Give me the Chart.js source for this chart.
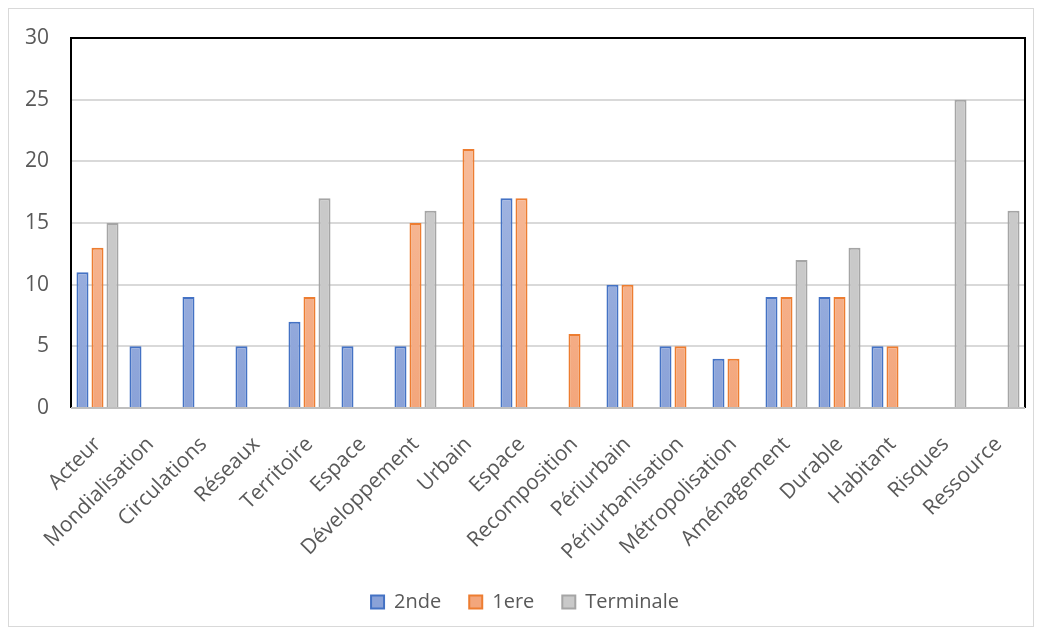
<!DOCTYPE html>
<html>
<head>
<meta charset="utf-8">
<script src="https://cdn.jsdelivr.net/npm/chart.js@4"></script>
<style>
    body { margin: 0; background: #fff; }
    #wrap { position: absolute; left: 8px; top: 8px; width: 1024px; height: 617px; border: 1px solid #d9d9d9; }
</style>
</head>
<body>
<div id="wrap"><canvas id="motsChart"></canvas></div>
<script>
var categories = ['Acteur', 'Mondialisation', 'Circulations', 'Réseaux', 'Territoire', 'Espace',
    'Développement', 'Urbain', 'Espace', 'Recomposition', 'Périurbain', 'Périurbanisation',
    'Métropolisation', 'Aménagement', 'Durable', 'Habitant', 'Risques', 'Ressource'];
var seconde = [11, 5, 9, 5, 7, 5, 5, 0, 17, 0, 10, 5, 4, 9, 9, 5, 0, 0];
var premiere = [13, 0, 0, 0, 9, 0, 15, 21, 17, 6, 10, 5, 4, 9, 9, 5, 0, 0];
var terminale = [15, 0, 0, 0, 17, 0, 16, 0, 0, 0, 0, 0, 0, 12, 13, 0, 25, 16];
var yTicks = [0, 5, 10, 15, 20, 25, 30];

// vertical gradient for bars
function grad(top, bottom) {
    return function (c) {
        var area = c.chart.chartArea;
        if (!area) return bottom;
        var g = c.chart.ctx.createLinearGradient(0, area.top, 0, area.bottom);
        g.addColorStop(0, top);
        g.addColorStop(1, bottom);
        return g;
    };
}

// border round the plot area
var plotBorder = {
    id: 'plotBorder',
    afterDraw: function (chart) {
        var a = chart.chartArea, ctx = chart.ctx;
        ctx.save();
        ctx.lineWidth = 2;
        ctx.strokeStyle = '#000';
        ctx.beginPath();
        ctx.moveTo(a.left, a.bottom);
        ctx.lineTo(a.left, a.top);
        ctx.lineTo(a.right, a.top);
        ctx.lineTo(a.right, a.bottom);
        ctx.stroke();
        ctx.strokeStyle = '#bfbfbf';
        ctx.beginPath();
        ctx.moveTo(a.left, a.bottom);
        ctx.lineTo(a.right, a.bottom);
        ctx.stroke();
        ctx.restore();
    }
};

var ctx = document.getElementById('motsChart').getContext('2d');
var motsChart = new Chart(ctx, {
    type: 'bar',
    data: {
        labels: categories,
        datasets: [{
            label: '2nde',
            data: seconde,
            backgroundColor: grad('#aebfe6', '#8aa2d8'),
            borderColor: '#4472c4',
            borderWidth: 2
        }, {
            label: '1ere',
            data: premiere,
            backgroundColor: grad('#f9c4a6', '#f3a67c'),
            borderColor: '#ed7d31',
            borderWidth: 2
        }, {
            label: 'Terminale',
            data: terminale,
            backgroundColor: '#c9c9c9',
            borderColor: '#a5a5a5',
            borderWidth: 2
        }]
    },
    plugins: [plotBorder],
    options: {
        responsive: true,
        maintainAspectRatio: false,
        animation: false,
        layout: { padding: { left: 16, right: 8, top: 29, bottom: 4 } },
        datasets: { bar: { categoryPercentage: 0.85, barPercentage: 0.8 } },
        scales: {
            x: {
                grid: { display: false },
                border: { display: false },
                afterFit: function (axis) {
                    // let the rotated first label hang past the plot edge
                    axis.paddingLeft = 0;
                    axis.paddingRight = 0;
                    axis.height = 156;
                },
                ticks: {
                    color: '#595959',
                    font: { family: 'Open Sans', size: 21 },
                    maxRotation: 45,
                    minRotation: 45,
                    autoSkip: false,
                    padding: 16
                }
            },
            y: {
                min: 0,
                max: 30,
                afterBuildTicks: function (axis) {
                    axis.ticks = yTicks.map(function (v) { return { value: v }; });
                },
                afterFit: function (axis) {
                    axis.width = 46;
                    axis.paddingTop = 0;
                    axis.paddingBottom = 0;
                },
                grid: { color: '#d9d9d9', lineWidth: 2, drawTicks: false },
                border: { display: false },
                ticks: {
                    color: '#595959',
                    font: { family: 'Open Sans', size: 21 },
                    padding: 22
                }
            }
        },
        plugins: {
            legend: {
                position: 'bottom',
                labels: {
                    color: '#595959',
                    font: { family: 'Open Sans', size: 20 },
                    boxWidth: 13,
                    boxHeight: 13,
                    padding: 28
                }
            },
            tooltip: { enabled: false }
        }
    }
});
</script>
</body>
</html>
